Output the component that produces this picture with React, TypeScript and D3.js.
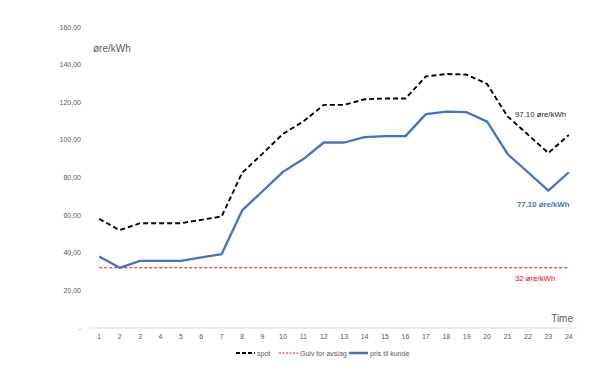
import React from "react";
import * as d3 from "d3";

const hours = d3.range(1, 25).map(String);
const spot = [58, 52, 55.7, 55.7, 55.7, 57.5, 59.3, 82.5, 92.7, 103.2, 109.8, 118.6, 118.6, 121.6, 122, 122, 133.7, 135, 134.7, 129.7, 112.5, 102.8, 93, 102.6];
const prisTilKunde = [38, 32, 35.7, 35.7, 35.7, 37.5, 39.3, 62.5, 72.7, 83, 89.8, 98.6, 98.6, 101.5, 102, 102, 113.7, 115, 114.7, 109.7, 92.5, 82.8, 73, 82.8];
const gulv = hours.map(() => 32);
const yTicks = [0, 20, 40, 60, 80, 100, 120, 140, 160];

const W = 605;
const H = 366;
const font = "'Liberation Sans', Arial, sans-serif";
const grey = "#595959";

const nb = d3.formatLocale({ decimal: ",", thousands: " ", grouping: [3], currency: ["", ""] });
const fmt = nb.format(".2f");

export default function App() {
  const x = d3.scaleBand<string>().domain(hours).range([89, 579]);
  const y = d3.scaleLinear().domain([0, 160]).range([328, 27]);
  const cx = (d: string) => (x(d) ?? 0) + x.bandwidth() / 2;

  const line = d3.line<number>()
    .x((_, i) => cx(hours[i]))
    .y(d => y(d));

  const legend = [
    { label: "spot", color: "#000", dash: "4,2", w: 2, x: 236 },
    { label: "Gulv for avslag", color: "#ff0000", dash: "2,1.5", w: 1, x: 279 },
    { label: "pris til kunde", color: "#4472c4", dash: null, w: 2.5, x: 349 }
  ];

  return (
    <div style={{ position: "absolute", left: 0, top: 0 }}>
      <svg width={W} height={H} style={{ display: "block", background: "#fff" }} fontFamily={font}>
        {/* y axis tick labels */}
        {yTicks.map(t => (
          <text key={t} x={81} y={y(t) + 2.5} textAnchor="end" fontSize={7} fill={grey}>
            {t === 0 ? "-" : fmt(t)}
          </text>
        ))}
        <text x={93} y={52} fontSize={10} fill={grey}>øre/kWh</text>

        {/* x axis */}
        <line x1={89} x2={577} y1={y(0)} y2={y(0)} stroke="#d9d9d9" strokeWidth={1} />
        {hours.map(h => (
          <text key={h} x={cx(h)} y={339} textAnchor="middle" fontSize={7} fill={grey}>{h}</text>
        ))}
        <text x={573} y={322} textAnchor="end" fontSize={10} fill={grey}>Time</text>

        {/* series */}
        <path d={line(gulv) ?? ""} fill="none" stroke="#ff0000" strokeWidth={1.1} strokeDasharray="3,2" />
        <path d={line(spot) ?? ""} fill="none" stroke="#000" strokeWidth={1.9} strokeDasharray="5,3" />
        <path d={line(prisTilKunde) ?? ""} fill="none" stroke="#4472c4" strokeWidth={2.3} strokeLinejoin="round" />

        {/* annotations */}
        <text x={515} y={117} fontSize={7.8} fill="#262626">97.10 øre/kWh</text>
        <text x={517} y={207} fontSize={7.8} fontWeight="bold" fill="#4472c4">77.10 øre/kWh</text>
        <text x={515} y={281} fontSize={7.8} fill="#ff0000">32 øre/kWh</text>

        {/* legend */}
        {legend.map(l => (
          <g key={l.label}>
            <line x1={l.x} x2={l.x + 19} y1={353} y2={353} stroke={l.color} strokeWidth={l.w} strokeDasharray={l.dash ?? undefined} />
            <text x={l.x + 21} y={355.5} fontSize={7} fill={grey}>{l.label}</text>
          </g>
        ))}
      </svg>
    </div>
  );
}
